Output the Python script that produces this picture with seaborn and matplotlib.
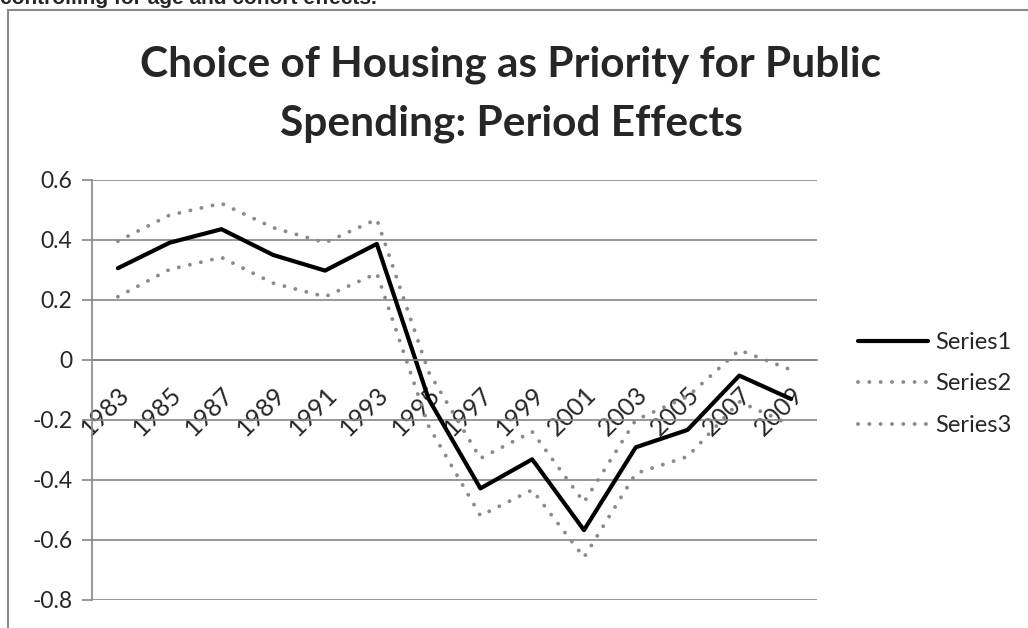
import matplotlib
matplotlib.use('Agg')
import matplotlib.pyplot as plt
import seaborn as sns
import pandas as pd
from matplotlib.patches import Rectangle

# Period effects, with upper and lower bounds
years = ['1983', '1985', '1987', '1989', '1991', '1993', '1995',
         '1997', '1999', '2001', '2003', '2005', '2007', '2009']
series1 = [0.306, 0.391, 0.436, 0.350, 0.298, 0.387, -0.13,
           -0.428, -0.331, -0.567, -0.291, -0.233, -0.052, -0.130]
series2 = [0.396, 0.483, 0.522, 0.441, 0.391, 0.469, -0.04,
           -0.328, -0.239, -0.474, -0.200, -0.122, 0.033, -0.033]
series3 = [0.211, 0.302, 0.342, 0.256, 0.211, 0.289, -0.22,
           -0.519, -0.433, -0.658, -0.378, -0.322, -0.139, -0.217]
yticks = [-0.8, -0.6, -0.4, -0.2, 0, 0.2, 0.4, 0.6]
ylabels = ['-0.8', '-0.6', '-0.4', '-0.2', '0', '0.2', '0.4', '0.6']

title = 'Choice of Housing as Priority for Public\nSpending: Period Effects'
caption = 'controlling for age and cohort effects.'

sns.set_style('white')
plt.rcParams['font.family'] = ['Lato', 'DejaVu Sans']

fig = plt.figure(figsize=(10.28, 6.28), dpi=100)
ax = fig.add_axes([92 / 1028, 1 - 600 / 628, (817 - 92) / 1028, 420 / 628])

grey = '#868686'
dot_grey = '#8a8a8a'

# outer frame and cut-off caption from the source document
fig.patches.append(Rectangle((8 / 1028, -0.1), 1.2, 1 - 10.5 / 628 + 0.1,
                             transform=fig.transFigure, fill=False,
                             edgecolor='#8a8a8a', linewidth=1.5))
fig.text(0.0, 1 - 4.5 / 628, caption, fontsize=15, fontweight='bold',
         family='Liberation Sans', va='baseline', ha='left')

df = pd.DataFrame({'year': years, 'Series1': series1,
                   'Series2': series2, 'Series3': series3})

sns.lineplot(data=df, x='year', y='Series1', ax=ax, color='black',
             linewidth=3, label='Series1', sort=False)
for name in ['Series2', 'Series3']:
    sns.lineplot(data=df, x='year', y=name, ax=ax, color=dot_grey,
                 linewidth=2.8, label=name, sort=False,
                 linestyle=(0, (0.01, 2.9)), dash_capstyle='round')

ax.set_ylim(-0.8, 0.6)
ax.set_xlim(-0.5, len(years) - 0.5)
ax.set_yticks(yticks)
ax.set_yticklabels(ylabels)
ax.yaxis.grid(True, color=grey, linewidth=1.2)
ax.set_axisbelow(True)

# category axis crossing at zero, ticks between categories
ax.spines['bottom'].set_position(('data', 0))
ax.spines['bottom'].set_color(grey)
ax.spines['bottom'].set_linewidth(1.2)
ax.spines['left'].set_color(grey)
ax.spines['left'].set_linewidth(1.2)
ax.spines['top'].set_visible(False)
ax.spines['right'].set_visible(False)

ax.set_xticks([i - 0.5 for i in range(len(years) + 1)])
ax.set_xticklabels([])
ax.set_xticks(range(len(years)), minor=True)
ax.set_xticklabels(years, minor=True, rotation=45, ha='right',
                   rotation_mode='anchor', fontsize=18)
ax.tick_params(axis='x', which='major', direction='out', length=8,
               color=grey, width=1.2)
ax.tick_params(axis='x', which='minor', length=0, pad=16)
ax.tick_params(axis='y', direction='out', length=7, color=grey, width=1.2,
               labelsize=16.5, pad=7)
ax.tick_params(axis='y', left=True)
ax.set_xlabel('')
ax.set_ylabel('')

for line, ybase in zip(title.split('\n'), [77, 136]):
    fig.text(511 / 1028, 1 - ybase / 628, line, fontsize=30.5,
             fontweight='bold', ha='center', va='baseline')

ax.legend(loc='center left', bbox_to_anchor=(858 / 1028, 1 - 384 / 628),
          bbox_transform=fig.transFigure, frameon=False, fontsize=17,
          handlelength=2.95, handletextpad=0.3, labelspacing=0.86,
          borderpad=0, borderaxespad=0)

fig.savefig('out.png', dpi=100)
